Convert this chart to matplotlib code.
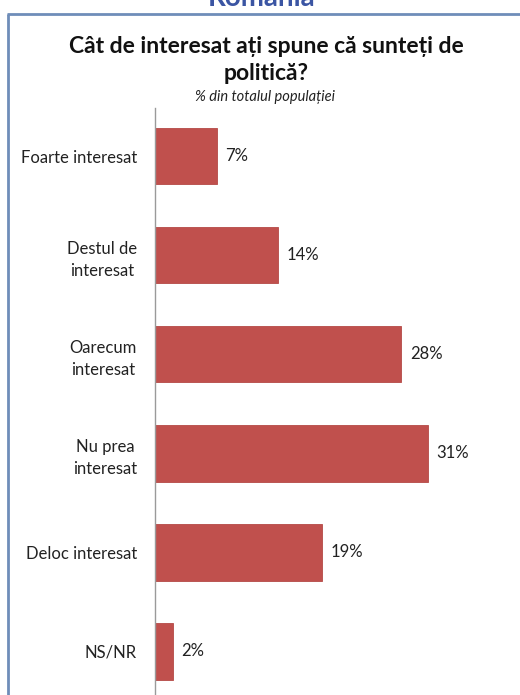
import matplotlib
matplotlib.use("Agg")
import matplotlib.pyplot as plt
from matplotlib.lines import Line2D

plt.rcParams['font.family'] = ['Lato', 'DejaVu Sans']

categories = ["Foarte interesat", "Destul de\ninteresat", "Oarecum\ninteresat",
              "Nu prea\ninteresat", "Deloc interesat", "NS/NR"]
values = [7, 14, 28, 31, 19, 2]
value_labels = [f"{v}%" for v in values]

title = "Cât de interesat ați spune că sunteți de\npolitică?"
subtitle = "% din totalul populației"
header = "România"

W, H = 520, 695
fig = plt.figure(figsize=(W / 100, H / 100), dpi=100)
fig.patch.set_facecolor("white")

# blue frame around the chart panel (open on the right and bottom)
frame_col = "#6F8DB9"
fx = 7.5 / W
fy = 1 - 13.5 / H
fig.add_artist(Line2D([fx, fx], [0, fy], transform=fig.transFigure,
                      color=frame_col, lw=2.0, solid_capstyle="butt"))
fig.add_artist(Line2D([fx - 1 / W, 1], [fy, fy], transform=fig.transFigure,
                      color=frame_col, lw=2.0, solid_capstyle="butt"))

# country header sitting above the frame
fig.text(262 / W, 1 - 6 / H, header, ha="center", va="baseline",
         fontsize=20, fontweight="bold", color="#3B55A3")

fig.text(266 / W, 1 - 60 / H, title, ha="center", va="center",
         fontsize=16.5, fontweight="bold", color="#111111", linespacing=1.32)
fig.text(265 / W, 1 - 97 / H, subtitle, ha="center", va="center",
         fontsize=10.5, style="italic", color="#222222")

ax_left, ax_right = 155, 510
ax_top, ax_bottom = 108, 695
ax = fig.add_axes([ax_left / W, 1 - ax_bottom / H,
                   (ax_right - ax_left) / W, (ax_bottom - ax_top) / H])
ax.set_facecolor("none")

ypos = list(range(len(categories)))
ax.barh(ypos, values, height=0.57, color="#C0504D", edgecolor="#B54946", lw=0.6)
ax.set_xlim(0, (ax_right - ax_left) / 8.8)
ax.set_ylim(5.44, -0.485)

for y, v, lab in zip(ypos, values, value_labels):
    ax.text(v + 1.0, y, lab, ha="left", va="center", fontsize=12, color="#222222")

ax.set_yticks(ypos)
ax.set_yticklabels(categories, fontsize=12, color="#222222", ha="right",
                   multialignment="center", linespacing=1.5)
ax.tick_params(axis="y", length=0, pad=13)
ax.set_xticks([])
for s in ["top", "right", "bottom"]:
    ax.spines[s].set_visible(False)
ax.spines["left"].set_color("#9A9A9A")
ax.spines["left"].set_linewidth(1.0)

fig.savefig("out.png", dpi=100)
